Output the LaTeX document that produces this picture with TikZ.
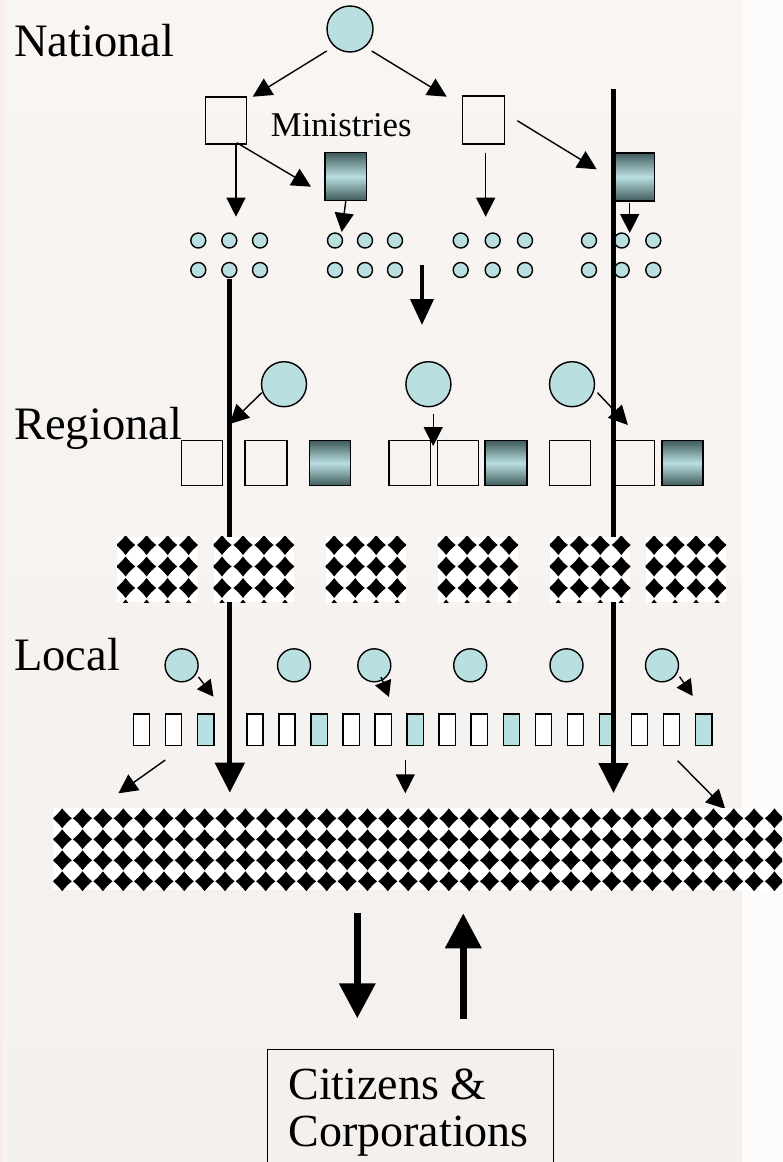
\documentclass[tikz,border=0pt]{standalone}
\usepackage{fontspec}
\setmainfont{Liberation Serif}
\usetikzlibrary{arrows.meta}

\definecolor{paperTop}{RGB}{249,245,242}
\definecolor{paperBot}{RGB}{244,240,237}
\definecolor{marginWhite}{RGB}{253,252,251}
\definecolor{edgePink}{RGB}{250,236,233}
\definecolor{unit}{RGB}{186,223,225}
\definecolor{unitDark}{RGB}{64,90,92}

\tikzset{
  level label/.style={anchor=base west, inner sep=0pt, font=\fontsize{46.5}{54}\selectfont},
  body/.style={circle, draw, line width=1.4pt, fill=unit, inner sep=0pt, minimum size=#1},
  office/.style n args={2}{rectangle, draw, line width=1.4pt, inner sep=0pt,
    minimum width=#1, minimum height=#2},
  agency/.style n args={2}{office={#1}{#2}, top color=unitDark, bottom color=unitDark, middle color=unit},
  desk/.style={rectangle, draw, line width=1.4pt, inner sep=0pt, minimum width=16.3pt,
    minimum height=31.7pt, fill=#1},
  flow/.style={line width=1.4pt, -{Triangle[length=19pt,width=19pt]}},
  shortflow/.style={line width=1.4pt, -{Triangle[length=16pt,width=17pt]}},
  trunk/.style={line width=5pt, -{Triangle[length=30pt,width=29pt]}},
  midtrunk/.style={line width=4pt, -{Triangle[length=26pt,width=23pt]}},
  exchange/.style={line width=7pt, -{Triangle[length=35pt,width=35pt]}},
}

% one black diamond (slightly concave sides) of the chequered fields
\newcommand\diam[2]{\fill[black, shift={(#1,#2)}] (0,-10)
  .. controls (3.0,-6.0) and (5.8,-3.0) .. (9.6,0)
  .. controls (5.8,3.0) and (3.0,6.0) .. (0,10)
  .. controls (-3.0,6.0) and (-5.8,3.0) .. (-9.6,0)
  .. controls (-5.8,-3.0) and (-3.0,-6.0) .. (0,-10) -- cycle;}

% small chequered field: left x, top y
\newcommand\smallfield[2]{%
  \begin{scope}
    \clip (#1,#2) rectangle ++(80.5,65.5);
    \fill[white] (#1,#2) rectangle ++(80.5,65.5);
    \foreach \r in {0,...,3}{
      \foreach \c in {0,...,3}{
        \pgfmathsetmacro\dx{#1+8.5+21*\c}
        \pgfmathsetmacro\dy{#2+8.3+21.5*\r}
        \diam{\dx}{\dy}
      }
    }
  \end{scope}}

\begin{document}
\begin{tikzpicture}[x=1pt, y=-1pt]
\useasboundingbox (0,0) rectangle (782,1162);

% paper
\shade[top color=paperTop, bottom color=paperBot] (0,0) rectangle (782,1162);
\shade[left color=edgePink, right color=paperTop] (0,0) rectangle (7,1162);
\fill[marginWhite] (742,0) rectangle (782,1162);

% level labels
\node[level label] (lnat) at (14,56.7) {National};
\node[level label] (lreg) at (14,439.3) {Regional};
\node[level label] (lloc) at (14,670) {Local};
\node[anchor=base west, inner sep=0pt, font=\fontsize{34.7}{40}\selectfont]
  (lmin) at (270.7,136) {Ministries};

% national government and ministries
\node[body=46pt] (gov) at (350,29) {};
\node[office={41pt}{47pt}] (minL) at (226.2,120.3) {};
\node[office={41.6pt}{48pt}] (minR) at (483.5,120) {};
\node[agency={41.7pt}{47.6pt}] (agL) at (345.8,176.5) {};
\node[agency={39.3pt}{48pt}] (agR) at (634.6,176.8) {};

% national agencies (groups of small units)
\foreach \g/\xa/\xb/\xc in {1/198.3/229.3/260, 2/335/365/395, 3/460.7/492.7/525, 4/589/621.7/653.3}{
  \node[body=15pt] (d\g a1) at (\xa,240.5) {};
  \node[body=15pt] (d\g b1) at (\xb,240.5) {};
  \node[body=15pt] (d\g c1) at (\xc,240.5) {};
  \node[body=15pt] (d\g a2) at (\xa,270) {};
  \node[body=15pt] (d\g b2) at (\xb,270) {};
  \node[body=15pt] (d\g c2) at (\xc,270) {};
}

% regional authorities
\node[body=45pt] (rg1) at (284,384.2) {};
\node[body=45pt] (rg2) at (428.4,384.2) {};
\node[body=45pt] (rg3) at (572,384.2) {};
\foreach \n/\xa/\xb in {1/181.4/222.5, 2/245/286.8, 4/389/430.4, 5/437.5/478.6, 7/549.3/590.4, 8/613.6/654.6}{
  \node[office={\xb pt-\xa pt}{45pt}] (rs\n) at ({(\xa+\xb)/2},463.2) {};
}
\foreach \n/\xa/\xb in {3/309.3/350.4, 6/485/526.8, 9/661.8/702.9}{
  \node[agency={\xb pt-\xa pt}{45pt}] (rs\n) at ({(\xa+\xb)/2},463.2) {};
}

% local authorities
\foreach \n/\x in {1/181.6, 2/294, 3/374.3, 4/470.2, 5/566.5, 6/662}{
  \node[body=33pt] (lc\n) at (\x,665.3) {};
}
\foreach \i in {0,...,17}{
  \pgfmathsetmacro\lx{\i<3 ? 132.7+32.05*\i : 246.1+32.05*(\i-3)}
  \pgfmathtruncatemacro\kind{mod(\i,3)}
  \ifnum\kind=2
    \node[desk=unit, anchor=north west] (ld\i) at (\lx,713.3) {};
  \else
    \node[desk=white, anchor=north west] (ld\i) at (\lx,713.3) {};
  \fi
}

% arrow end points
\coordinate (gA) at (326.7,51);   \coordinate (gAt) at (252.7,96.7);
\coordinate (gB) at (371.7,51);   \coordinate (gBt) at (446.7,96.7);
\coordinate (mLa) at (236,144);   \coordinate (mLat) at (236,216.7);
\coordinate (mLb) at (236.7,142.7); \coordinate (mLbt) at (311,186.7);
\coordinate (aLt) at (341.7,232);
\coordinate (mRa) at (485.7,152.7); \coordinate (mRat) at (485.7,216.7);
\coordinate (mRb) at (517.3,120.7); \coordinate (mRbt) at (596.7,169.3);
\coordinate (aRs) at (629.7,203); \coordinate (aRt) at (629.7,233);
\coordinate (midS) at (422,265);  \coordinate (midT) at (422,325);
\coordinate (r1s) at (261.8,392.7); \coordinate (r1t) at (229.6,424);
\coordinate (r2s) at (433.2,414);   \coordinate (r2t) at (433.2,446);
\coordinate (r3s) at (597.5,392.7); \coordinate (r3t) at (627.9,425);
\coordinate (l1s) at (198.5,677);   \coordinate (l1t) at (213.5,696.7);
\coordinate (l3s) at (381,677);     \coordinate (l3t) at (389,697);
\coordinate (l6s) at (679.6,676.7); \coordinate (l6t) at (692.7,696);
\coordinate (sLs) at (165.3,760);   \coordinate (sLt) at (118.4,793.3);
\coordinate (sMs) at (405.3,760);   \coordinate (sMt) at (405.3,793.3);
\coordinate (sRs) at (677.6,760.7); \coordinate (sRt) at (725.3,809);
\coordinate (tLs) at (229.8,279);   \coordinate (tLt) at (229.8,792.7);
\coordinate (tRs) at (613.5,89.3);  \coordinate (tRt) at (613.5,793);
\coordinate (xDs) at (357.3,913.3); \coordinate (xDt) at (357.3,1018.3);
\coordinate (xUs) at (463.3,1019);  \coordinate (xUt) at (463.3,913.3);

% thin flows
\draw[flow] (gA) -- (gAt);
\draw[flow] (gB) -- (gBt);
\draw[flow] (mLa) -- (mLat);
\draw[flow] (mLb) -- (mLbt);
\draw[flow] (agL.south) -- (aLt);
\draw[flow] (mRa) -- (mRat);
\draw[flow] (mRb) -- (mRbt);
\draw[flow] (aRs) -- (aRt);
\draw[midtrunk] (midS) -- (midT);
\draw[flow] (r1s) -- (r1t);
\draw[flow] (r2s) -- (r2t);
\draw[flow] (r3s) -- (r3t);
\draw[shortflow] (l1s) -- (l1t);
\draw[shortflow] (l3s) -- (l3t);
\draw[shortflow] (l6s) -- (l6t);
\draw[flow] (sLs) -- (sLt);
\draw[flow] (sMs) -- (sMt);
\draw[flow] (sRs) -- (sRt);

% long vertical channels
\draw[trunk] (tLs) -- (tLt);
\draw[trunk] (tRs) -- (tRt);

% regional chequered fields
\smallfield{117.1}{536.7}
\smallfield{213.5}{536.7}
\smallfield{325.7}{536.7}
\smallfield{437.6}{536.7}
\smallfield{549.8}{536.7}
\smallfield{645.6}{536.7}

% local chequered band
\begin{scope}
  \clip (53.3,808) rectangle (782,890);
  \fill[white] (53.3,808) rectangle (782,890);
  \foreach \r in {0,...,3}{
    \foreach \c in {0,...,35}{
      \pgfmathsetmacro\dx{62.2+20.35*\c}
      \pgfmathsetmacro\dy{818.3+21*\r}
      \diam{\dx}{\dy}
    }
  }
\end{scope}

% exchange with citizens
\draw[exchange] (xDs) -- (xDt);
\draw[exchange] (xUs) -- (xUt);

\node[rectangle, draw, line width=1pt, inner sep=0pt, anchor=north west,
  minimum width=286.3pt, minimum height=130pt] (cit) at (266.7,1049.3) {};
\node[level label, font=\fontsize{46}{52}\selectfont] (citA) at (288.3,1099.3) {Citizens \&};
\node[level label, font=\fontsize{46}{52}\selectfont] (citB) at (288.3,1146.7) {Corporations};
\end{tikzpicture}
\end{document}
